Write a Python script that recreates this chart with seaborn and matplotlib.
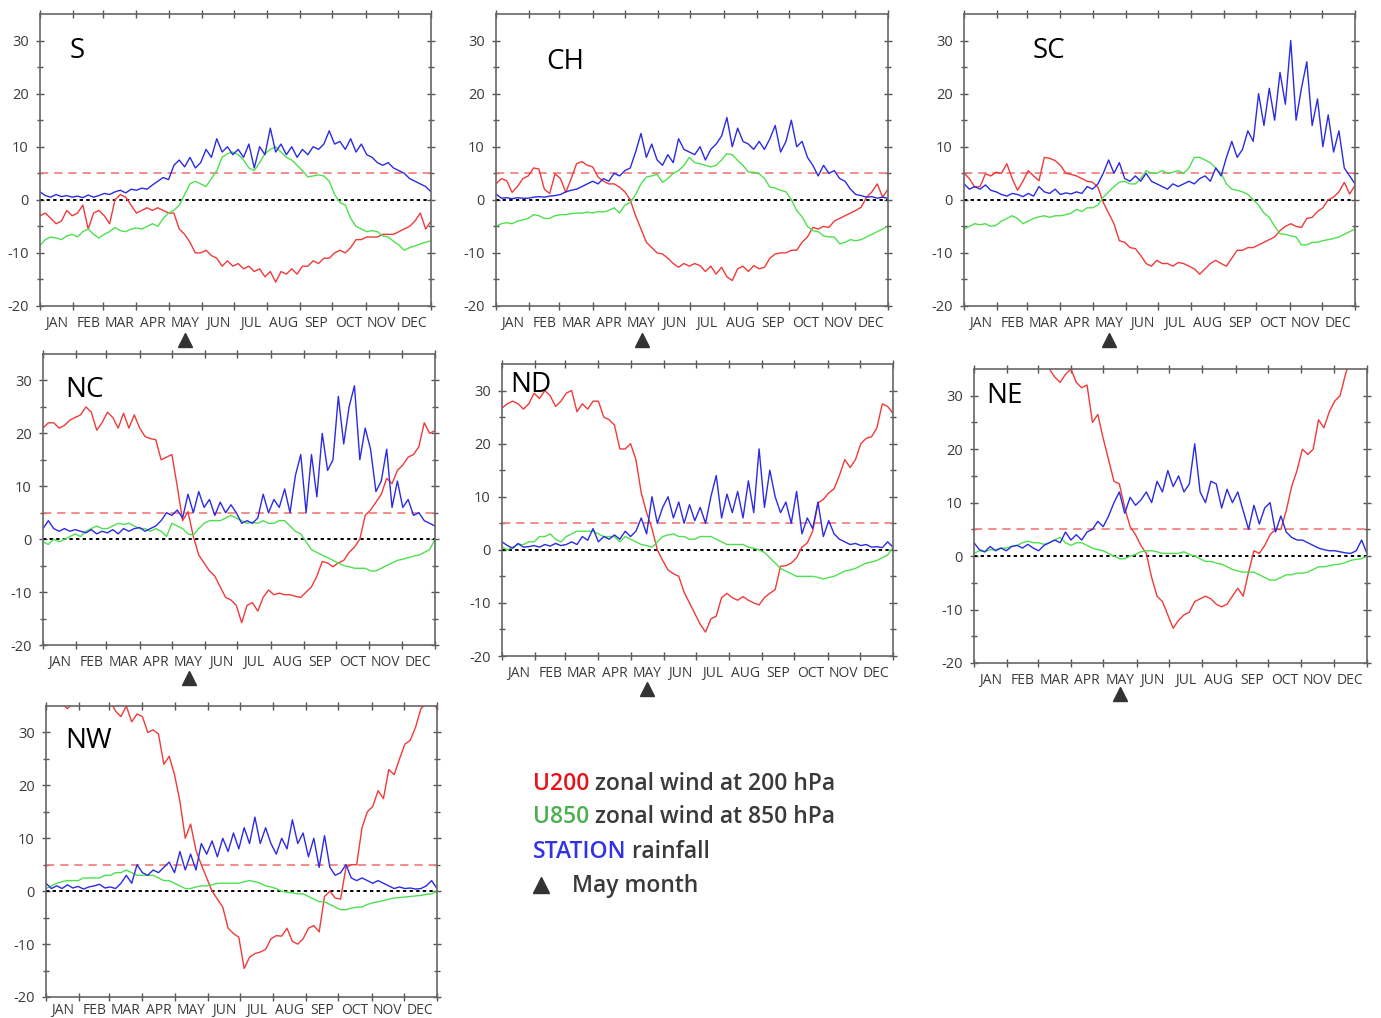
import numpy as np
import pandas as pd
import matplotlib
matplotlib.use("Agg")
import matplotlib.pyplot as plt
from matplotlib.transforms import blended_transform_factory
import seaborn as sns

# ---------------------------------------------------------------- calendar
MONTHS = ["JAN", "FEB", "MAR", "APR", "MAY", "JUN",
          "JUL", "AUG", "SEP", "OCT", "NOV", "DEC"]
MONTH_START = [0, 31, 59, 90, 120, 151, 181, 212, 243, 273, 304, 334, 365]
DAYS = np.arange(0, 366, 5)        # pentad sampling, day of year 0..365

# ---------------------------------------------------------------- S
S_U200 = [-3.0, -2.5, -3.5, -4.5, -4.0, -2.0, -3.0, -2.5, -1.0, -5.5,
          -2.5, -2.0, -3.0, -4.5, 0.0, 1.0, 0.5, -1.0, -2.5, -2.0,
          -1.5, -2.0, -1.5, -2.0, -2.5, -2.5, -5.5, -6.5, -8.0, -10.0,
          -10.0, -9.5, -10.5, -11.0, -12.5, -11.5, -12.5, -12.0, -13.0, -12.5,
          -13.5, -13.0, -14.5, -13.5, -15.5, -13.5, -14.0, -13.0, -14.0, -12.5,
          -12.5, -11.5, -12.0, -11.0, -11.0, -10.0, -9.5, -10.0, -9.0, -7.5,
          -7.5, -7.0, -7.0, -7.0, -6.5, -6.5, -6.5, -6.0, -5.5, -5.0,
          -4.0, -2.5, -5.5, -4.0]
S_U850 = [-8.6, -7.5, -7.0, -7.2, -7.5, -6.8, -6.5, -7.0, -6.0, -5.5,
          -6.5, -7.2, -6.5, -6.0, -5.2, -5.8, -6.0, -5.5, -5.3, -5.5,
          -5.0, -4.5, -5.0, -3.5, -2.5, -2.0, -1.0, 1.0, 3.0, 3.5,
          3.0, 2.5, 4.0, 5.5, 8.0, 8.7, 9.0, 8.5, 7.5, 6.0,
          5.5, 7.0, 8.7, 9.5, 10.0, 9.0, 8.0, 7.5, 6.5, 5.5,
          4.3, 4.5, 4.7, 4.5, 3.5, 1.0, -0.5, -1.0, -3.5, -5.0,
          -5.5, -6.0, -5.8, -6.0, -6.8, -7.0, -7.8, -8.5, -9.5, -9.0,
          -8.7, -8.3, -8.0, -7.7]
S_RAIN = [1.5, 0.8, 0.5, 1.0, 0.6, 0.8, 0.5, 0.7, 0.4, 0.9,
          0.5, 0.8, 1.2, 1.0, 1.5, 1.8, 1.3, 2.0, 1.8, 2.2,
          2.0, 2.8, 3.5, 4.2, 3.8, 6.5, 7.5, 6.2, 8.0, 6.0,
          7.0, 9.5, 8.0, 11.5, 9.0, 10.0, 8.5, 9.5, 8.0, 10.5,
          6.0, 10.0, 8.5, 13.5, 9.0, 10.5, 8.5, 10.0, 8.0, 9.5,
          8.5, 10.0, 9.5, 10.5, 13.0, 10.5, 11.0, 9.5, 11.5, 9.0,
          10.5, 8.5, 8.0, 7.0, 6.5, 7.0, 6.0, 5.5, 5.0, 4.0,
          3.5, 3.0, 2.5, 1.5]

# ---------------------------------------------------------------- CH
CH_U200 = [3.0, 4.0, 3.6, 1.4, 2.5, 4.0, 4.5, 6.0, 5.8, 2.0,
           1.2, 4.9, 4.0, 1.4, 4.0, 6.8, 7.2, 6.5, 6.2, 4.3,
           3.5, 3.0, 3.0, 2.4, 1.5, 0.0, -3.0, -5.5, -8.0, -9.0,
           -10.0, -10.2, -11.0, -12.0, -12.7, -12.0, -12.5, -12.0, -12.4, -13.5,
           -12.5, -14.0, -12.7, -14.5, -15.2, -13.0, -12.5, -13.5, -12.4, -13.0,
           -12.7, -11.0, -10.2, -10.0, -10.0, -9.5, -9.5, -8.0, -7.0, -5.2,
           -5.5, -5.0, -5.2, -4.0, -3.5, -3.0, -2.5, -2.0, -1.4, 0.5,
           1.5, 3.0, 0.5, 2.0]
CH_U850 = [-5.0, -4.5, -4.3, -4.5, -4.0, -3.8, -3.5, -2.8, -3.0, -3.5,
           -3.5, -3.0, -2.8, -2.8, -2.6, -2.5, -2.5, -2.3, -2.5, -2.2,
           -2.3, -2.0, -1.5, -2.5, -1.0, -0.5, 1.0, 3.0, 4.3, 4.5,
           4.8, 3.3, 4.0, 5.0, 5.5, 6.5, 8.0, 7.0, 6.8, 6.5,
           6.2, 6.5, 7.5, 8.7, 8.5, 7.4, 6.5, 5.2, 5.2, 4.9,
           4.0, 2.4, 2.2, 1.8, 1.5, 0.0, -2.0, -3.2, -5.0, -5.8,
           -6.0, -6.8, -7.0, -7.0, -8.3, -8.0, -7.5, -7.7, -7.5, -7.0,
           -6.5, -6.0, -5.5, -5.0]
CH_RAIN = [1.1, 0.3, 0.4, 0.2, 0.4, 0.3, 0.3, 0.5, 0.6, 0.5,
           0.7, 0.8, 1.0, 1.5, 1.8, 2.0, 2.5, 3.0, 3.5, 3.0,
           4.0, 3.5, 5.0, 4.5, 5.5, 6.0, 9.0, 12.5, 8.0, 10.5,
           7.5, 6.5, 8.5, 7.0, 11.5, 9.5, 9.0, 8.5, 10.0, 7.5,
           9.5, 10.5, 12.0, 15.5, 10.0, 13.5, 11.0, 10.5, 9.5, 11.0,
           9.5, 11.5, 14.0, 9.0, 11.0, 15.0, 10.0, 11.0, 8.0, 6.5,
           4.5, 6.5, 5.0, 5.5, 4.0, 3.5, 2.0, 1.0, 0.8, 0.5,
           0.6, 0.3, 0.5, 0.3]

# ---------------------------------------------------------------- SC
SC_U200 = [5.0, 4.0, 2.4, 2.5, 4.9, 4.5, 5.2, 5.0, 6.8, 4.0,
           1.8, 3.5, 5.5, 4.5, 3.6, 8.0, 7.8, 7.4, 6.5, 5.0,
           4.8, 4.5, 4.0, 3.5, 3.3, 2.4, -0.5, -2.5, -4.5, -7.7,
           -8.0, -9.0, -9.2, -10.5, -12.0, -12.5, -11.4, -12.0, -12.0, -12.5,
           -11.8, -12.0, -12.5, -13.0, -14.0, -13.0, -12.0, -11.4, -12.0, -12.5,
           -11.0, -9.5, -9.5, -9.0, -9.0, -8.5, -8.0, -7.5, -7.0, -5.8,
           -5.0, -4.5, -5.0, -5.2, -3.5, -3.3, -2.2, -1.5, 0.0, 0.5,
           1.5, 3.3, 1.1, 2.7]
SC_U850 = [-5.5, -5.0, -4.5, -4.7, -4.5, -5.0, -4.8, -4.0, -3.5, -3.0,
           -3.5, -4.5, -4.0, -3.5, -3.2, -3.0, -3.3, -3.0, -3.0, -2.8,
           -2.5, -1.8, -2.2, -1.5, -1.5, -1.0, 0.5, 1.5, 2.5, 3.3,
           3.5, 3.0, 3.0, 4.0, 5.5, 5.0, 5.0, 5.5, 5.0, 5.2,
           5.5, 5.0, 6.0, 8.0, 8.0, 7.5, 7.0, 6.0, 5.0, 3.0,
           2.0, 1.8, 1.5, 1.0, 0.0, -1.0, -2.5, -3.3, -5.0, -6.4,
           -6.5, -6.8, -7.0, -8.5, -8.5, -8.0, -8.0, -7.7, -7.5, -7.3,
           -7.0, -6.5, -6.0, -5.5]
SC_RAIN = [3.0, 2.0, 2.5, 2.0, 2.8, 1.8, 1.5, 1.0, 0.7, 1.2,
           1.0, 0.6, 1.2, 0.7, 2.5, 1.5, 1.2, 2.0, 1.0, 1.3,
           1.1, 1.5, 1.2, 2.5, 2.0, 3.0, 5.0, 7.5, 5.0, 7.0,
           4.0, 3.5, 4.5, 3.5, 5.0, 3.5, 3.0, 2.5, 2.0, 3.0,
           2.5, 3.0, 3.5, 3.0, 4.0, 4.5, 3.5, 6.0, 4.5, 8.0,
           11.0, 8.0, 9.5, 13.0, 11.0, 20.0, 14.0, 21.0, 15.0, 24.0,
           18.0, 30.0, 15.0, 21.0, 26.0, 14.0, 19.0, 10.0, 16.0, 9.0,
           13.0, 6.0, 4.5, 3.0]

# ---------------------------------------------------------------- NC
NC_U200 = [21.0, 22.0, 22.0, 21.0, 21.5, 22.5, 23.0, 23.5, 25.0, 24.0,
           20.6, 22.0, 24.0, 23.0, 21.0, 23.8, 21.0, 23.5, 21.0, 19.4,
           19.0, 18.8, 15.0, 15.5, 16.0, 10.0, 3.5, 5.2, 0.5, -3.0,
           -4.5, -6.0, -7.0, -9.0, -11.0, -11.5, -12.5, -15.8, -12.5, -12.0,
           -13.6, -11.0, -9.6, -10.5, -10.2, -10.5, -10.5, -10.8, -11.0, -10.0,
           -9.0, -7.0, -4.2, -4.5, -5.2, -4.5, -4.0, -2.5, -1.5, 0.0,
           4.5, 5.5, 7.0, 8.5, 11.5, 10.5, 13.0, 14.0, 15.5, 16.0,
           17.5, 22.0, 20.0, 20.5]
NC_U850 = [-0.5, -1.0, 0.0, -0.5, 0.0, 0.5, 1.0, 0.5, 1.5, 2.0,
           2.5, 2.0, 2.0, 2.5, 3.0, 2.8, 3.0, 2.5, 2.0, 2.0,
           1.5, 2.0, 1.5, 0.5, 3.0, 2.5, 2.0, 1.0, 0.8, 2.0,
           3.0, 3.5, 3.5, 3.5, 4.0, 4.5, 4.0, 3.5, 3.0, 3.2,
           3.0, 3.5, 3.0, 3.0, 3.5, 3.5, 2.5, 1.5, 1.0, -0.5,
           -2.0, -2.5, -3.0, -3.5, -4.0, -4.5, -5.0, -5.2, -5.5, -5.5,
           -5.5, -6.0, -6.0, -5.5, -5.0, -4.5, -4.0, -3.8, -3.5, -3.2,
           -3.0, -2.5, -2.0, 0.0]
NC_RAIN = [2.0, 3.5, 2.0, 1.5, 2.0, 1.5, 1.8, 1.5, 1.2, 1.8,
           1.0, 1.5, 1.2, 1.8, 1.0, 2.0, 1.5, 2.0, 2.2, 1.5,
           2.0, 2.5, 3.5, 5.0, 4.5, 5.5, 4.0, 8.5, 5.0, 9.0,
           6.0, 7.5, 4.5, 7.0, 5.0, 6.5, 5.0, 3.0, 3.5, 3.0,
           4.0, 8.5, 5.0, 7.5, 6.0, 9.5, 5.0, 12.0, 16.0, 5.0,
           16.0, 8.0, 20.0, 13.0, 15.0, 27.0, 18.0, 25.0, 29.0, 15.0,
           21.0, 17.0, 9.0, 11.0, 17.0, 6.0, 11.0, 6.0, 7.5, 4.5,
           5.0, 3.5, 3.0, 2.5]

# ---------------------------------------------------------------- ND
ND_U200 = [26.7, 27.5, 28.0, 27.5, 26.5, 27.5, 29.5, 28.5, 30.0, 29.0,
           27.0, 28.0, 29.5, 30.0, 26.0, 27.5, 26.5, 28.0, 28.0, 25.0,
           24.5, 23.5, 19.0, 19.0, 20.0, 17.0, 10.7, 7.0, 4.0, 0.0,
           -2.0, -3.8, -4.5, -5.0, -8.0, -10.0, -12.0, -14.0, -15.5, -13.0,
           -12.5, -9.0, -8.2, -9.0, -9.5, -8.8, -9.5, -10.0, -10.4, -9.0,
           -8.2, -7.5, -3.1, -3.0, -2.5, -1.5, 0.5, 1.3, 3.5, 8.8,
           9.5, 10.7, 11.5, 14.0, 17.0, 15.5, 17.0, 20.0, 21.0, 21.3,
           23.0, 27.5, 27.0, 25.7]
ND_U850 = [0.5, 0.0, 0.5, 1.0, 1.0, 1.5, 1.5, 2.5, 2.5, 3.0,
           2.0, 1.5, 2.5, 3.0, 3.5, 3.5, 3.5, 3.5, 3.0, 2.5,
           2.5, 2.5, 1.5, 2.5, 2.0, 1.5, 1.0, 0.8, 0.5, 1.5,
           2.5, 2.8, 3.0, 2.5, 2.5, 2.0, 2.0, 2.5, 2.5, 2.5,
           2.0, 1.5, 1.0, 1.0, 1.0, 1.0, 0.5, 0.3, 0.0, -0.5,
           -1.5, -2.5, -3.5, -4.0, -4.5, -5.0, -5.0, -5.0, -5.0, -5.2,
           -5.5, -5.2, -5.0, -4.5, -4.0, -3.8, -3.5, -3.0, -2.5, -2.3,
           -2.0, -1.5, -1.0, 0.5]
ND_RAIN = [1.5, 0.8, 0.3, 1.2, 0.5, 0.6, 0.8, 0.5, 1.0, 0.7,
           1.2, 0.8, 1.0, 1.5, 1.0, 2.5, 1.8, 4.0, 1.5, 2.5,
           2.0, 2.8, 2.0, 3.5, 2.5, 3.5, 6.0, 3.0, 10.0, 5.0,
           8.0, 10.0, 6.0, 9.0, 5.0, 8.5, 5.5, 8.0, 5.0, 10.0,
           14.0, 6.0, 10.5, 7.0, 11.0, 6.0, 13.0, 7.0, 19.0, 8.0,
           15.0, 10.0, 7.0, 9.0, 5.0, 11.0, 3.0, 6.0, 4.0, 9.0,
           2.5, 5.5, 3.0, 2.0, 1.5, 1.0, 1.2, 0.8, 1.0, 0.5,
           0.6, 0.4, 1.5, 0.5]

# ---------------------------------------------------------------- NE
NE_U200 = [40.0, 40.0, 40.0, 40.0, 40.0, 40.0, 40.0, 39.5, 39.0, 39.0,
           38.5, 38.0, 38.0, 36.5, 35.0, 33.5, 32.5, 34.0, 35.0, 32.5,
           31.5, 32.0, 25.0, 26.5, 22.0, 18.0, 14.0, 13.5, 9.0, 5.5,
           4.0, 2.0, 0.5, -4.0, -7.5, -8.5, -11.0, -13.5, -12.0, -11.0,
           -10.5, -8.5, -8.0, -7.5, -8.0, -9.0, -9.5, -9.0, -7.5, -6.0,
           -7.5, -3.0, 1.0, 0.5, 2.0, 4.0, 5.0, 5.0, 8.5, 13.0,
           16.0, 20.0, 19.0, 20.0, 25.5, 24.0, 27.0, 29.0, 30.0, 34.0,
           37.0, 39.0, 40.0, 41.0]
NE_U850 = [0.5, 1.0, 0.8, 1.2, 1.2, 1.5, 1.5, 1.8, 2.0, 2.5,
           2.8, 2.5, 2.5, 2.2, 2.5, 3.0, 3.5, 2.5, 2.0, 2.5,
           2.5, 2.0, 1.5, 1.2, 1.0, 0.5, 0.0, -0.5, -0.5, 0.0,
           0.3, 0.8, 1.0, 1.0, 0.8, 0.5, 0.5, 0.5, 0.5, 0.8,
           0.3, 0.0, -0.5, -1.0, -1.0, -1.3, -1.5, -2.0, -2.5, -2.8,
           -3.0, -3.0, -3.0, -3.5, -4.0, -4.5, -4.5, -4.0, -3.5, -3.5,
           -3.2, -3.2, -3.0, -2.5, -2.0, -2.0, -1.8, -1.6, -1.5, -1.2,
           -0.8, -0.6, -0.5, 0.0]
NE_RAIN = [2.5, 1.2, 0.8, 1.8, 1.0, 1.5, 1.0, 1.8, 2.0, 1.5,
           2.2, 1.5, 1.0, 2.0, 2.5, 3.0, 2.5, 4.5, 3.0, 4.0,
           3.0, 4.5, 5.0, 6.5, 5.5, 7.5, 10.0, 12.0, 8.0, 11.0,
           9.5, 10.5, 12.0, 10.0, 14.0, 12.0, 16.0, 13.0, 15.0, 12.0,
           13.5, 21.0, 12.0, 10.0, 14.0, 13.5, 9.0, 12.5, 10.0, 12.0,
           8.5, 5.0, 9.5, 6.0, 9.0, 10.0, 4.5, 7.5, 4.5, 3.5,
           3.0, 3.0, 2.5, 2.0, 1.5, 1.2, 1.0, 1.0, 0.8, 0.6,
           0.5, 1.0, 3.0, 0.5]

# ---------------------------------------------------------------- NW
NW_U200 = [36.0, 36.0, 35.5, 35.5, 34.5, 35.5, 36.0, 36.0, 36.0, 36.0,
           36.0, 36.0, 36.0, 34.0, 33.0, 35.0, 32.0, 33.5, 33.0, 30.0,
           30.5, 29.7, 24.0, 25.5, 22.0, 17.0, 10.0, 12.7, 7.7, 5.0,
           2.5, 0.0, -1.5, -3.0, -7.0, -8.0, -8.7, -14.6, -12.5, -11.8,
           -11.5, -11.0, -9.0, -8.4, -8.5, -7.0, -9.5, -10.0, -9.0, -7.0,
           -6.5, -7.7, -1.0, 0.0, -1.3, -1.5, 4.5, 5.0, 5.0, 12.0,
           15.0, 16.0, 19.0, 17.5, 23.0, 22.0, 25.0, 27.8, 28.5, 31.0,
           34.5, 35.5, 36.0, 34.5]
NW_U850 = [0.5, 1.0, 1.5, 1.8, 2.0, 2.0, 2.0, 2.5, 2.5, 2.5,
           2.5, 3.0, 3.0, 3.5, 3.5, 4.0, 3.5, 3.0, 3.0, 3.0,
           3.0, 2.5, 2.0, 2.0, 1.5, 1.0, 0.5, 0.5, 0.8, 1.0,
           1.0, 1.2, 1.5, 1.5, 1.5, 1.5, 1.5, 1.8, 2.0, 1.8,
           1.5, 1.0, 0.8, 0.5, 0.0, -0.2, -0.3, -0.5, -0.5, -1.0,
           -1.5, -2.0, -2.0, -2.5, -3.0, -3.5, -3.5, -3.2, -3.0, -3.0,
           -2.5, -2.2, -2.0, -1.8, -1.5, -1.3, -1.2, -1.1, -1.0, -0.9,
           -0.8, -0.6, -0.5, 0.0]
NW_RAIN = [1.5, 0.5, 1.0, 0.5, 1.2, 0.6, 0.9, 0.4, 0.8, 1.0,
           1.3, 0.6, 0.8, 0.5, 1.5, 3.0, 1.5, 5.0, 3.5, 3.0,
           4.0, 3.5, 4.5, 5.5, 3.5, 7.5, 4.0, 7.0, 4.0, 9.0,
           7.0, 9.5, 6.5, 10.0, 7.5, 11.0, 8.0, 12.0, 9.0, 14.0,
           9.0, 12.0, 9.0, 7.0, 10.0, 8.0, 13.5, 9.0, 11.0, 6.5,
           10.0, 4.5, 10.5, 4.5, 3.0, 3.5, 5.0, 2.5, 2.0, 2.5,
           2.0, 1.5, 2.0, 1.5, 1.0, 0.5, 0.8, 0.5, 0.6, 0.4,
           0.5, 1.0, 2.0, 0.5]

REGIONS = ["S", "CH", "SC", "NC", "ND", "NE", "NW"]
U200 = [S_U200, CH_U200, SC_U200, NC_U200, ND_U200, NE_U200, NW_U200]
U850 = [S_U850, CH_U850, SC_U850, NC_U850, ND_U850, NE_U850, NW_U850]
RAIN = [S_RAIN, CH_RAIN, SC_RAIN, NC_RAIN, ND_RAIN, NE_RAIN, NW_RAIN]

# ---------------------------------------------------------------- styling
RED, GREEN, BLUE = "#f03a3a", "#4fe04f", "#2b2be3"
PALETTE = {"U200": RED, "U850": GREEN, "STATION": BLUE}

# panel boxes in pixels (left, top, right, bottom), title anchor (axes
# fraction) and vertical offset of the May marker (axes fraction)
BOXES = [(40, 14, 431, 306), (496, 14, 888, 306), (964, 14, 1355, 306),
         (43, 354, 435, 645), (502, 364, 893, 656), (974, 369, 1367, 663),
         (46, 706, 437, 997)]
TITLE_XY = [(0.077, 0.849), (0.129, 0.811), (0.176, 0.848),
            (0.056, 0.851), (0.022, 0.905), (0.032, 0.885), (0.049, 0.855)]
MAY_Y = [-0.116, -0.116, -0.116, -0.113, -0.113, -0.105, None]
LABEL_PAD = [7, 7, 7, 7, 7, 7, 4]

sns.set_theme(style="white")
plt.rcParams["font.family"] = ["Open Sans", "DejaVu Sans"]
plt.rcParams["axes.unicode_minus"] = False

W, H = 1381, 1018
fig = plt.figure(figsize=(W / 100, H / 100), dpi=100)
fig.patch.set_facecolor("white")

mid_month = [(a + b) / 2 for a, b in zip(MONTH_START[:-1], MONTH_START[1:])]

for i, name in enumerate(REGIONS):
    l, t, r, b = BOXES[i]
    ax = fig.add_axes([l / W, 1 - b / H, (r - l) / W, (b - t) / H])

    df = pd.concat([
        pd.DataFrame({"day": DAYS, "value": U200[i], "series": "U200"}),
        pd.DataFrame({"day": DAYS, "value": U850[i], "series": "U850"}),
        pd.DataFrame({"day": DAYS, "value": RAIN[i], "series": "STATION"}),
    ], ignore_index=True)

    ax.axhline(5, color="#f07a7a", lw=1.2, dashes=(5.0, 3.5), zorder=1.5)
    ax.axhline(0, color="black", lw=1.4, dashes=(1.7, 1.7), zorder=1.5)

    sns.lineplot(data=df, x="day", y="value", hue="series",
                 hue_order=["U200", "U850", "STATION"], palette=PALETTE,
                 estimator=None, sort=False, legend=False, lw=1.0, ax=ax)

    ax.set_xlim(0, 365)
    ax.set_ylim(-20, 35)
    ax.set_xlabel("")
    ax.set_ylabel("")

    ax.set_xticks(MONTH_START)
    ax.set_xticklabels([])
    ax.set_xticks(mid_month, minor=True)
    ax.set_xticklabels(MONTHS, minor=True)
    ax.set_yticks([-20, -10, 0, 10, 20, 30])
    ax.set_yticks([-15, -5, 5, 15, 25], minor=True)

    ax.tick_params(axis="both", which="major", direction="inout", length=6,
                   width=1.0, color="#555555", top=True, right=True,
                   bottom=True, left=True)
    ax.tick_params(axis="y", which="minor", direction="inout", length=5,
                   width=1.0, color="#555555", left=True, right=True)
    ax.tick_params(axis="x", which="minor", length=0, pad=LABEL_PAD[i],
                   labelsize=10, labelcolor="#3a3a3a")
    ax.tick_params(axis="y", which="major", labelsize=10.5,
                   labelcolor="#3a3a3a", pad=5)
    for s in ax.spines.values():
        s.set_color("#666666")
        s.set_linewidth(1.2)

    tx, ty = TITLE_XY[i]
    ax.text(tx, ty, name, transform=ax.transAxes, fontsize=20,
            color="black", ha="left", va="baseline")

    if MAY_Y[i] is not None:
        trans = blended_transform_factory(ax.transData, ax.transAxes)
        ax.plot([mid_month[4]], [MAY_Y[i]], marker="^", ms=10,
                color="#333333", transform=trans, clip_on=False)

# ---------------------------------------------------------------- key
KEY_ROWS = [("U200", " zonal wind at 200 hPa", "#e8141c", 790),
            ("U850", " zonal wind at 850 hPa", "#4caf50", 823),
            ("STATION", " rainfall", "#3232e6", 858)]
for word, rest, col, ybase in KEY_ROWS:
    t1 = fig.text(533 / W, 1 - ybase / H, word, color=col, fontsize=16.5,
                  fontweight="semibold", ha="left", va="baseline")
    fig.text(0, 0, "")
    plt.annotate(rest, xy=(1, 0), xycoords=t1, color="#3a3a3a",
                 fontsize=16.5, fontweight="semibold", ha="left",
                 va="bottom", annotation_clip=False)

fig.lines.append(plt.Line2D([541 / W], [1 - 885 / H], marker="^", ms=11,
                            color="#333333", transform=fig.transFigure))
fig.text(572 / W, 1 - 892 / H, "May month", color="#3a3a3a", fontsize=16.5,
         fontweight="semibold", ha="left", va="baseline")

fig.savefig("out.png", dpi=100, facecolor="white")
